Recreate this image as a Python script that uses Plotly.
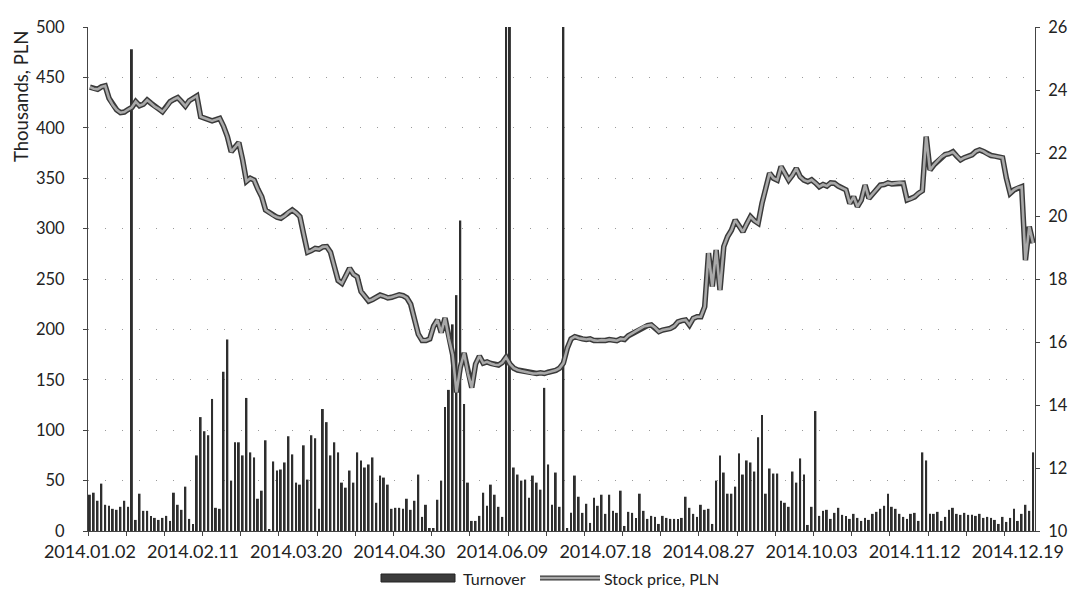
import pandas as pd
import plotly.graph_objects as go

# ---- categories: WSE trading days of 2014 ----
closed_days = ["2014-01-06", "2014-04-18", "2014-04-21", "2014-05-01", "2014-06-19",
               "2014-06-20", "2014-08-15", "2014-11-11", "2014-12-24", "2014-12-25",
               "2014-12-26", "2014-12-31"]
trading_days = [d.strftime("%Y.%m.%d") for d in pd.bdate_range("2014-01-02", "2014-12-31")
                if d.strftime("%Y-%m-%d") not in closed_days]

# ---- turnover, thousands PLN ----
turnover = [
    36, 38, 30, 47, 26, 25, 22, 21, 24, 30,
    24, 478, 11, 37, 20, 20, 15, 13, 11, 13,
    15, 10, 38, 26, 21, 44, 12, 7, 75, 113,
    99, 95, 131, 23, 22, 158, 190, 50, 88, 88,
    75, 132, 78, 73, 32, 40, 90, 2, 69, 60,
    61, 68, 94, 76, 48, 46, 85, 51, 95, 92,
    22, 121, 108, 75, 88, 78, 48, 43, 60, 48,
    78, 70, 63, 66, 73, 28, 55, 53, 46, 22,
    23, 23, 22, 32, 21, 30, 56, 14, 26, 3,
    3, 31, 50, 123, 140, 205, 234, 308, 126, 48,
    10, 10, 15, 38, 25, 46, 36, 24, 14, 520,
    520, 63, 56, 50, 51, 33, 55, 48, 41, 142,
    66, 26, 58, 24, 520, 3, 18, 55, 34, 18,
    27, 8, 33, 25, 36, 17, 36, 20, 18, 40,
    5, 19, 18, 13, 37, 20, 12, 15, 14, 7,
    15, 13, 12, 12, 12, 13, 34, 23, 17, 14,
    26, 21, 22, 7, 50, 75, 58, 37, 37, 44,
    77, 56, 70, 68, 59, 93, 115, 37, 62, 57,
    57, 30, 28, 24, 59, 48, 72, 56, 6, 24,
    119, 15, 20, 21, 12, 18, 23, 16, 15, 12,
    17, 13, 10, 13, 11, 17, 19, 22, 25, 37,
    24, 22, 17, 14, 12, 17, 18, 10, 78, 70,
    17, 17, 19, 10, 14, 21, 23, 17, 16, 18,
    16, 16, 15, 17, 13, 14, 13, 11, 7, 14,
    9, 13, 22, 10, 17, 26, 20, 78,
]

# ---- stock price, PLN ----
price = [
    24.09, 24.04, 24.02, 24.10, 24.13, 23.74, 23.52, 23.37, 23.28, 23.30,
    23.38, 23.45, 23.63, 23.50, 23.55, 23.68, 23.58, 23.47, 23.40, 23.31,
    23.45, 23.63, 23.70, 23.76, 23.63, 23.49, 23.66, 23.74, 23.81, 23.15,
    23.10, 23.07, 23.02, 23.06, 23.10, 22.85, 22.52, 22.04, 22.20, 22.33,
    21.78, 21.10, 21.20, 21.14, 20.85, 20.61, 20.19, 20.10, 20.02, 19.96,
    19.93, 20.00, 20.12, 20.19, 20.10, 19.98, 19.40, 18.85, 18.90, 18.97,
    18.95, 19.02, 19.03, 18.85, 18.40, 17.95, 17.86, 18.10, 18.34, 18.15,
    18.07, 17.60, 17.45, 17.30, 17.35, 17.42, 17.49, 17.45, 17.40, 17.42,
    17.47, 17.50, 17.47, 17.40, 17.20, 16.70, 16.25, 16.05, 16.05, 16.10,
    16.50, 16.70, 16.30, 16.76, 16.10, 15.60, 14.40, 15.20, 15.65, 15.00,
    14.55, 15.30, 15.55, 15.33, 15.37, 15.32, 15.28, 15.27, 15.35, 15.52,
    15.30, 15.17, 15.11, 15.08, 15.05, 15.02, 15.00, 15.00, 15.02, 15.00,
    15.04, 15.06, 15.10, 15.17, 15.33, 15.80, 16.10, 16.17, 16.12, 16.10,
    16.08, 16.10, 16.05, 16.04, 16.06, 16.05, 16.08, 16.06, 16.04, 16.10,
    16.08, 16.20, 16.27, 16.35, 16.40, 16.49, 16.52, 16.54, 16.45, 16.33,
    16.38, 16.40, 16.43, 16.50, 16.64, 16.68, 16.70, 16.54, 16.75, 16.80,
    16.80, 17.12, 18.82, 17.76, 18.92, 17.65, 19.03, 19.35, 19.55, 19.87,
    19.70, 19.50, 19.75, 19.98, 19.85, 19.77, 20.40, 20.93, 21.36, 21.20,
    21.14, 21.57, 21.35, 21.14, 21.30, 21.51, 21.25, 21.14, 21.09, 21.15,
    21.05, 20.93, 21.00, 20.95, 21.05, 21.04, 20.95, 20.90, 20.83, 20.40,
    20.61, 20.30, 20.50, 20.98, 20.56, 20.70, 20.85, 20.98, 21.00, 21.05,
    21.02, 21.04, 21.06, 21.04, 20.51, 20.55, 20.61, 20.72, 20.80, 22.52,
    21.46, 21.62, 21.75, 21.88, 21.95, 21.98, 22.04, 21.90, 21.78, 21.85,
    21.90, 21.94, 22.05, 22.10, 22.05, 21.97, 21.92, 21.90, 21.88, 21.85,
    21.20, 20.72, 20.83, 20.90, 20.93, 18.60, 19.66, 19.14,
]

label_step = 27
left_ticks = list(range(0, 501, 50))
right_ticks = list(range(10, 27, 2))

n = len(trading_days)
xpos = list(range(n))
tick_idx = list(range(0, n, label_step))
tick_txt = [trading_days[i] for i in tick_idx]

FONT = "Lato, 'Open Sans', sans-serif"
DARK = "#3a3a3a"
LIGHT = "#a9a9a9"

fig = go.Figure()
fig.add_trace(go.Bar(x=xpos, y=turnover, name="Turnover",
                     marker=dict(color="#2e2e2e", line=dict(width=0)),
                     showlegend=False, yaxis="y"))
fig.add_trace(go.Scatter(x=xpos, y=price, mode="lines", yaxis="y2",
                         line=dict(color=DARK, width=5.5), showlegend=False,
                         hoverinfo="skip"))
fig.add_trace(go.Scatter(x=xpos, y=price, mode="lines", yaxis="y2",
                         name="Stock price, PLN",
                         line=dict(color=LIGHT, width=2.6), showlegend=False))

W, H = 1079, 601
L, R, T, B = 88, 44, 27, 70
pw, ph = W - L - R, H - T - B


def px(x):
    return (x - L) / pw


def py(y):
    return (H - B - y) / ph


fig.update_layout(
    width=W, height=H,
    margin=dict(l=L, r=R, t=T, b=B),
    paper_bgcolor="white", plot_bgcolor="white",
    bargap=0.5,
    font=dict(family=FONT, size=17, color="#222"),
    xaxis=dict(range=[-0.5, n - 0.5], tickmode="array", tickvals=tick_idx,
               ticktext=tick_txt, ticks="", ticklen=0, showgrid=False, zeroline=False,
               showline=True, linecolor="#444", linewidth=1,
               ticklabelstandoff=4,
               tickfont=dict(family=FONT, size=18, color="#222"),
               minor=dict(tickmode="linear", tick0=-0.5, dtick=10, ticks="outside",
                          ticklen=4, tickcolor="#444", showgrid=False)),
    yaxis=dict(range=[0, 500], tickvals=left_ticks, ticks="outside", ticklen=4,
               tickcolor="#444", showline=True, linecolor="#444", linewidth=1,
               showgrid=True, gridcolor="#9a9a9a", gridwidth=1,
               griddash="1px,16px", zeroline=False, ticklabelstandoff=15,
               tickfont=dict(family=FONT, size=16.5, color="#222")),
    yaxis2=dict(range=[10, 26], tickvals=right_ticks, overlaying="y", side="right",
                ticks="outside", ticklen=4, tickcolor="#444", showline=True,
                linecolor="#444", linewidth=1, showgrid=False, zeroline=False,
                ticklabelstandoff=5,
                tickfont=dict(family=FONT, size=16.5, color="#222")),
)

# y-axis title
fig.add_annotation(text="Thousands, PLN", textangle=-90, xref="paper", yref="paper",
                   x=px(21), y=py(97), xanchor="center", yanchor="middle",
                   showarrow=False, font=dict(family=FONT, size=18.5, color="#222"))

# legend (drawn manually to match the reference layout)
leg_y = 578
fig.add_shape(type="rect", xref="paper", yref="paper", x0=px(381), x1=px(455),
              y0=py(582), y1=py(574), fillcolor="#3c3c3c",
              line=dict(color="#222", width=1))
fig.add_annotation(text="Turnover", xref="paper", yref="paper", x=px(461), y=py(leg_y),
                   xanchor="left", yanchor="middle", showarrow=False,
                   font=dict(family=FONT, size=16, color="#222"))
fig.add_shape(type="line", xref="paper", yref="paper", x0=px(540), x1=px(600),
              y0=py(leg_y), y1=py(leg_y), line=dict(color=DARK, width=5))
fig.add_shape(type="line", xref="paper", yref="paper", x0=px(540), x1=px(600),
              y0=py(leg_y), y1=py(leg_y), line=dict(color=LIGHT, width=2.5))
fig.add_annotation(text="Stock price, PLN", xref="paper", yref="paper", x=px(602),
                   y=py(leg_y), xanchor="left", yanchor="middle", showarrow=False,
                   font=dict(family=FONT, size=16, color="#222"))

fig.write_html("out.html", config={"displayModeBar": False},
               post_script="document.body.style.margin='0px';")
